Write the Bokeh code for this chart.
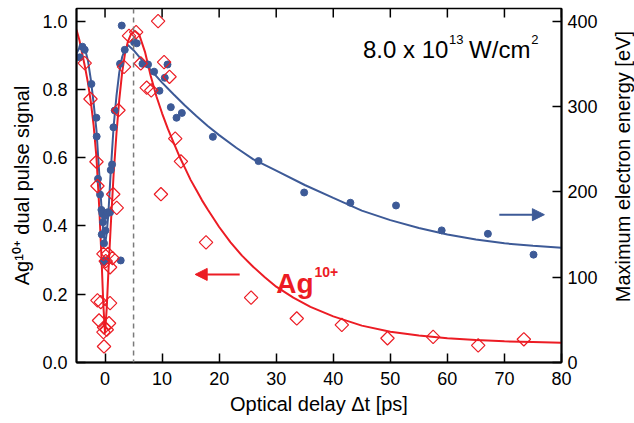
import numpy as np
from bokeh.plotting import figure
from bokeh.layouts import row
from bokeh.models import (Range1d, LinearAxis, FixedTicker, Span, Arrow, NormalHead,
                          Label, NumeralTickFormatter)
from bokeh.core.properties import value
from bokeh.embed import file_html
from bokeh.resources import INLINE

# ---------------- data ----------------
# Ag10+ dual pulse signal (left axis)
red_x = [-3.56, -2.55, -1.50, -1.33, 1.44, 2.05, 2.35, 3.33, 4.20, 5.45, 6.26, 7.30,
         8.10, 9.30, 9.80, 10.35, 11.30, 12.30, 13.30, 17.70, 25.60, 33.60, 41.50,
         49.50, 57.50, 65.40, 73.40,
         -0.28, 0.53, 1.30, 0.12, 0.88, -1.33, -0.75, 0.88, -1.05, 0.70, -0.18, 0.30,
         -0.28, -0.18]
red_y = [0.877, 0.772, 0.588, 0.517, 0.493, 0.453, 0.739, 0.866, 0.957, 0.968, 0.876, 0.805,
         0.797, 1.000, 0.493, 0.880, 0.837, 0.656, 0.589, 0.352, 0.190, 0.129, 0.110,
         0.071, 0.075, 0.050, 0.068,
         0.318, 0.318, 0.306, 0.297, 0.279, 0.182, 0.177, 0.174, 0.123, 0.115, 0.103, 0.096,
         0.089, 0.047]

# Maximum electron energy [eV] (right axis)
blue_x = [-4.44, -3.96, -3.56, -2.39, -1.51, -1.46, -1.23, -0.88, -0.63, -0.46, -0.35,
          -0.58, 0.07, 0.12, 0.42, 0.88, 1.00, 1.23, 1.47, 1.70, 2.63, 3.46, 2.93, 5.09,
          5.56, -0.18, -0.28, 0.07, 2.75,
          6.56, 7.54, 8.60, 10.95, 10.47, 9.54, 11.53, 12.53, 13.46, 18.9, 26.9, 34.9,
          43.0, 51.0, 59.0, 67.1, 75.1]
blue_ev = [357.6, 370.0, 366.4, 326.4, 286.8, 264.8, 215.2, 196.8, 178.8, 174.4, 164.4,
           150.0, 154.8, 172.0, 176.0, 176.0, 225.6, 232.0, 275.6, 295.2, 350.0, 366.4, 394.8,
           375.2, 374.0, 139.6, 118.0, 119.6, 119.6,
           350.0, 349.2, 340.8, 349.2, 333.6, 318.4, 299.2, 286.8, 292.4, 264.4, 236.0, 199.2,
           187.2, 184.0, 154.8, 150.8, 126.4]

# fitted curves
red_fit_x = [-5.0, -4.5, -4.0, -3.5, -3.0, -2.5, -2.0, -1.5, -1.0, -0.6, -0.3, 0.0, 0.3, 0.6,
             1.0, 1.5, 2.0, 2.5, 3.0, 3.5, 4.0, 4.5, 5.2, 6.0, 7.0, 8.0, 9.0, 10.0, 11.0,
             12.0, 13.0, 14.0, 15.0, 16.0, 17.0, 18.0, 20.0, 22.0, 24.0, 26.0, 28.0, 30.0,
             33.0, 36.0, 40.0, 45.0, 50.0, 55.0, 60.0, 65.0, 70.0, 75.0, 80.0]
red_fit_y = [0.975, 0.945, 0.905, 0.865, 0.820, 0.765, 0.695, 0.600, 0.450, 0.300, 0.170,
             0.085, 0.160, 0.270, 0.400, 0.550, 0.670, 0.770, 0.850, 0.905, 0.940, 0.960,
             0.972, 0.960, 0.910, 0.840, 0.780, 0.730, 0.685, 0.645, 0.605, 0.570, 0.535,
             0.505, 0.475, 0.448, 0.397, 0.352, 0.313, 0.280, 0.250, 0.222, 0.190, 0.163,
             0.135, 0.108, 0.090, 0.079, 0.071, 0.066, 0.062, 0.060, 0.058]

blue_fit_x = [-5.0, -4.5, -4.0, -3.5, -3.0, -2.5, -2.0, -1.5, -1.0, -0.6, -0.3, 0.0, 0.3,
              0.6, 1.0, 1.5, 2.0, 2.5, 3.0, 3.5, 4.0, 5.0, 6.0, 7.0, 8.0, 10.0, 12.0, 14.0,
              16.0, 18.0, 20.0, 23.0, 26.0, 30.0, 35.0, 40.0, 45.0, 50.0, 55.0, 60.0, 65.0,
              70.0, 75.0, 80.0]
blue_fit_ev = [362.0, 368.8, 371.2, 367.2, 354.0, 332.0, 304.0, 272.0, 220.0, 180.0, 154.0,
               138.0, 152.0, 176.0, 224.0, 276.0, 312.0, 340.0, 358.0, 367.2, 372.0, 366.0,
               358.0, 350.4, 342.8, 328.0, 314.4, 301.2, 288.8, 277.2, 266.4, 251.6, 238.0,
               224.8, 208.0, 192.8, 178.0, 166.8, 157.6, 150.0, 144.0, 139.6, 136.8, 134.4]

x_ticks = [0, 10, 20, 30, 40, 50, 60, 70, 80]
left_ticks = [0.0, 0.2, 0.4, 0.6, 0.8, 1.0]
right_ticks = [0, 100, 200, 300, 400]
right_title = "Maximum electron energy [eV]"

# ---------------- styling ----------------
RED = "#ec1c24"
BLUE = "#3d5a97"
FONT = "Liberation Sans"
YMAX = 1.037
TICK_LEN = 9 / 341.5   # inward tick length expressed in left-axis units

p = figure(width=610, height=423, x_range=Range1d(-5, 80), y_range=Range1d(0, YMAX),
           output_backend="svg", toolbar_location=None,
           min_border_left=76, min_border_right=49, min_border_top=8, min_border_bottom=61)
p.extra_y_ranges = {"energy": Range1d(0, YMAX * 400)}
p.xgrid.visible = False
p.ygrid.visible = False
p.outline_line_color = "black"
p.outline_line_width = 1.5
p.background_fill_color = "white"
p.border_fill_color = "white"


def style_axis(ax, width=2):
    ax.axis_line_width = width
    ax.axis_line_color = "black"
    ax.major_tick_in = 9
    ax.major_tick_out = 0
    ax.major_tick_line_width = 1.5
    ax.major_tick_line_color = "black"
    ax.minor_tick_line_color = None
    ax.major_label_text_font = FONT
    ax.major_label_text_font_size = "18px"
    ax.major_label_text_color = "black"
    ax.axis_label_text_font = FONT
    ax.axis_label_text_font_size = "20px"
    ax.axis_label_text_font_style = "normal"
    ax.axis_label_text_color = "black"


xa = p.xaxis[0]
xa.ticker = FixedTicker(ticks=x_ticks)
xa.axis_label = "Optical delay \u0394t [ps]"
style_axis(xa)
xa.major_label_standoff = 9
xa.axis_label_standoff = 5

ya = p.yaxis[0]
ya.ticker = FixedTicker(ticks=left_ticks)
ya.formatter = NumeralTickFormatter(format="0.0")
ya.axis_label = "Ag\u00b9\u2070\u207a dual pulse signal"
style_axis(ya)
ya.major_label_standoff = 9
ya.axis_label_standoff = 6

ra = LinearAxis(y_range_name="energy", ticker=FixedTicker(ticks=right_ticks))
style_axis(ra)
ra.major_label_standoff = 6
p.add_layout(ra, "right")

# inward ticks on the top edge
p.segment(x0=x_ticks, y0=[YMAX] * len(x_ticks), x1=x_ticks,
          y1=[YMAX - TICK_LEN] * len(x_ticks), line_color="black", line_width=1.5)

# dashed line at the pulse overlap
p.add_layout(Span(location=5, dimension="height", line_color="#7a7a7a",
                  line_dash="5 4", line_width=1.5))

# curves
p.line(blue_fit_x, blue_fit_ev, y_range_name="energy", line_color=BLUE, line_width=2)
p.line(red_fit_x, red_fit_y, line_color=RED, line_width=2)

# points
p.scatter(blue_x, blue_ev, y_range_name="energy", marker="circle", size=7,
          fill_color=BLUE, line_color=BLUE)
p.scatter(red_x, red_y, marker="square", angle=np.pi / 4, size=9.5,
          fill_color=None, line_color=RED, line_width=1.2)

# arrows
p.add_layout(Arrow(x_start=23.6, y_start=0.258, x_end=15.8, y_end=0.258,
                   line_color=RED, line_width=2,
                   end=NormalHead(size=12, fill_color=RED, line_color=RED)))
p.add_layout(Arrow(x_start=69.1, y_start=0.433, x_end=77.0, y_end=0.433,
                   line_color=BLUE, line_width=2,
                   end=NormalHead(size=12, fill_color=BLUE, line_color=BLUE)))

# annotations
p.add_layout(Label(x=30.0, y=0.2305, text="Ag", text_font=FONT, text_font_size="28px",
                   text_font_style="bold", text_color=RED, text_baseline="alphabetic"))
p.add_layout(Label(x=36.7, y=0.265, text="10+", text_font=FONT, text_font_size="14px",
                   text_font_style="bold", text_color=RED, text_baseline="alphabetic"))

p.add_layout(Label(x=45.2, y=0.918, text="8.0 x 10", text_font=FONT, text_font_size="24px",
                   text_color="black", text_baseline="alphabetic"))
p.add_layout(Label(x=60.3, y=0.946, text="13", text_font=FONT, text_font_size="13px",
                   text_color="black", text_baseline="alphabetic"))
p.add_layout(Label(x=63.8, y=0.918, text="W/cm", text_font=FONT, text_font_size="24px",
                   text_color="black", text_baseline="alphabetic"))
p.add_layout(Label(x=74.7, y=0.946, text="2", text_font=FONT, text_font_size="13px",
                   text_color="black", text_baseline="alphabetic"))

# narrow strip holding the right-axis title, reading bottom to top
t = figure(width=24, height=423, x_range=Range1d(0, 24), y_range=Range1d(0, 423),
           output_backend="svg", toolbar_location=None,
           min_border_left=0, min_border_right=0, min_border_top=0, min_border_bottom=0)
t.axis.visible = False
t.grid.visible = False
t.outline_line_color = None
t.background_fill_color = "white"
t.border_fill_color = "white"
t.text(x=[12], y=[234], text=[right_title], angle=np.pi / 2,
       text_align="center", text_baseline="middle", text_font=value(FONT),
       text_font_size="20px", text_color="black")

layout = row(p, t, spacing=0)
open("out.html", "w").write(file_html(layout, INLINE))
